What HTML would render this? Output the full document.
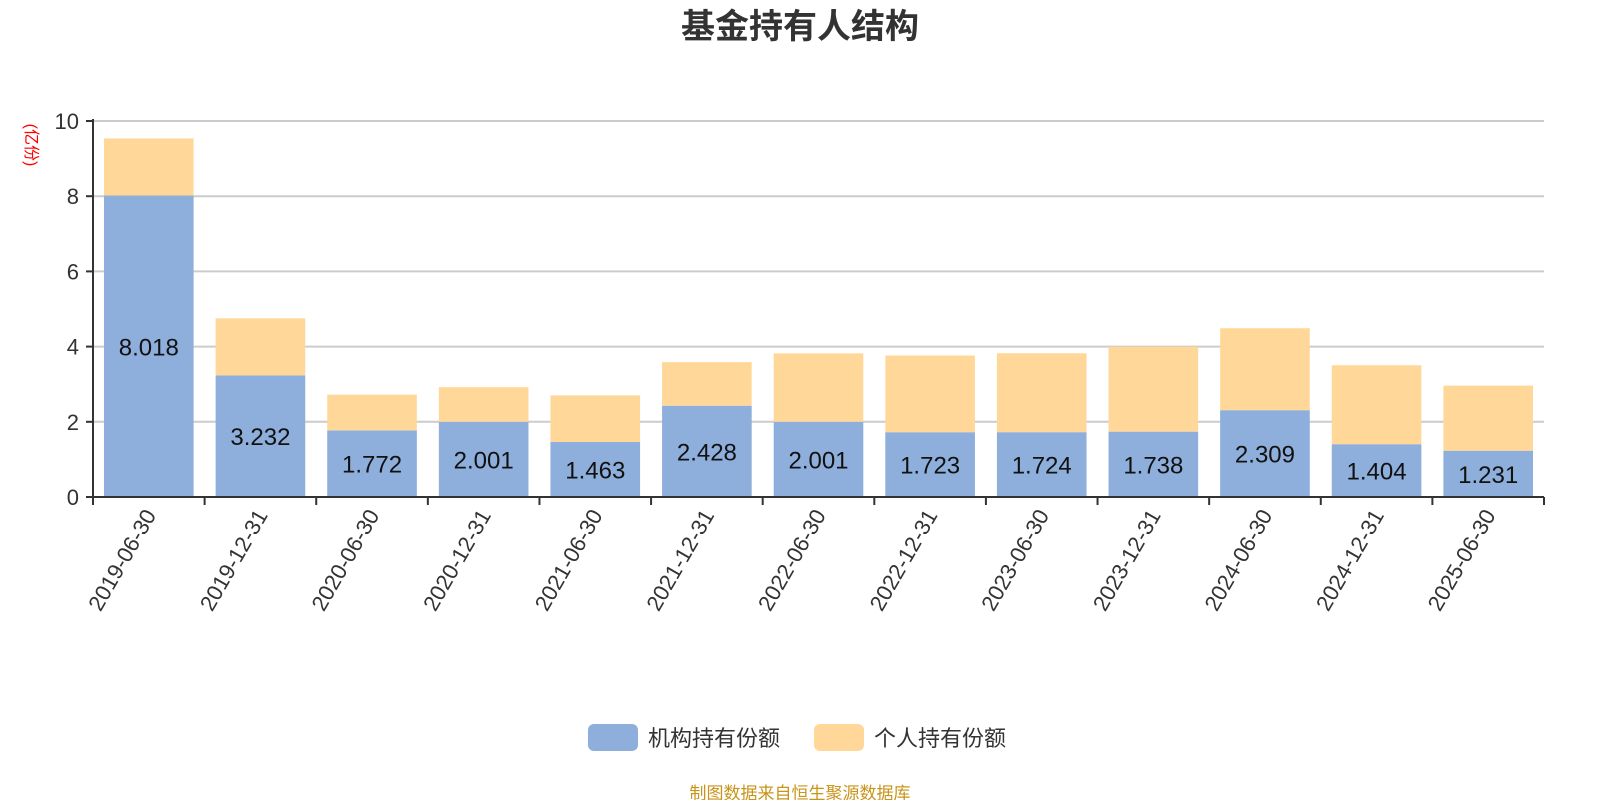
<!DOCTYPE html>
<html><head><meta charset="utf-8"><style>
body{margin:0;background:#fff;}
svg{display:block;font-family:"Liberation Sans","Noto Sans CJK SC",sans-serif;}
</style></head><body>
<svg id="chart" width="1600" height="800">
<text x="800" y="38" text-anchor="middle" font-size="34" font-weight="bold" fill="#333">基金持有人结构</text>
<text transform="translate(26,145) rotate(90)" text-anchor="middle" font-size="16" fill="#f00">(亿份)</text>
<g id="grid"></g><g id="bars"></g><g id="axes"></g>
<g>
<g><rect x="588" y="724" width="50" height="27" rx="6" fill="#8eaedb"/><text x="648" y="746" font-size="22" fill="#333">机构持有份额</text></g>
<g><rect x="814" y="724" width="50" height="27" rx="6" fill="#ffd899"/><text x="874" y="746" font-size="22" fill="#333">个人持有份额</text></g>
</g>
<text x="800" y="799" text-anchor="middle" font-size="17" fill="#c8941a">制图数据来自恒生聚源数据库</text>
</svg>
<script>
const categories=["2019-06-30","2019-12-31","2020-06-30","2020-12-31","2021-06-30","2021-12-31","2022-06-30","2022-12-31","2023-06-30","2023-12-31","2024-06-30","2024-12-31","2025-06-30"];
const institution=[8.018,3.232,1.772,2.001,1.463,2.428,2.001,1.723,1.724,1.738,2.309,1.404,1.231];
const individual=[1.52,1.52,0.95,0.92,1.24,1.16,1.82,2.04,2.10,2.26,2.18,2.10,1.73];
const yTicks=[0,2,4,6,8,10];
const NS="http://www.w3.org/2000/svg";
const X0=93,X1=1544,Y0=497,Y10=121;
const bw=(X1-X0)/categories.length;
const y=v=>Y0-(Y0-Y10)*v/10;
function mk(tag,attrs,parent,txt){const e=document.createElementNS(NS,tag);for(const k in attrs)e.setAttribute(k,attrs[k]);if(txt!=null)e.textContent=txt;parent.appendChild(e);return e;}
const grid=document.getElementById('grid'),bars=document.getElementById('bars'),axes=document.getElementById('axes');
yTicks.forEach(t=>{
  if(t>0){const l=mk('line',{x1:X0,x2:X1,y1:y(t),y2:y(t),stroke:'#ccc','stroke-width':2},grid);
  
  }
  const tk=mk('line',{x1:X0-7,x2:X0,y1:y(t),y2:y(t),stroke:'#333','stroke-width':2},axes);
  
  
  const tx=mk('text',{x:X0-14,y:y(t)+8,'text-anchor':'end','font-size':22,fill:'#333'},axes,t);
  
  
});
categories.forEach((c,i)=>{
  const bx=X0+i*bw+11,w=bw-22;
  const a=mk('rect',{x:bx,y:y(institution[i]),width:w,height:Y0-y(institution[i]),fill:'#8eaedb'},bars);
  
  
  const b=mk('rect',{x:bx,y:y(institution[i]+individual[i]),width:w,height:y(institution[i])-y(institution[i]+individual[i]),fill:'#ffd899'},bars);
  
  
  const lb=mk('text',{x:bx+w/2,y:(y(institution[i])+Y0)/2+9,'text-anchor':'middle','font-size':24,fill:'#111'},bars,institution[i].toFixed(3));
  
  
  const cx=X0+(i+0.5)*bw;
  const xl=mk('text',{transform:`translate(${cx+8},${Y0+18}) rotate(-60)`,'text-anchor':'end','font-size':22,fill:'#333'},axes,c);
  
  
});
for(let i=0;i<=categories.length;i++){const t=mk('line',{x1:X0+i*bw,x2:X0+i*bw,y1:Y0,y2:Y0+8,stroke:'#333','stroke-width':2},axes);

}
const ya=mk('line',{x1:X0,x2:X0,y1:Y10-2,y2:Y0,stroke:'#333','stroke-width':2},axes);


const xa=mk('line',{x1:X0,x2:X1,y1:Y0,y2:Y0,stroke:'#333','stroke-width':2},axes);


</script>
</body></html>
